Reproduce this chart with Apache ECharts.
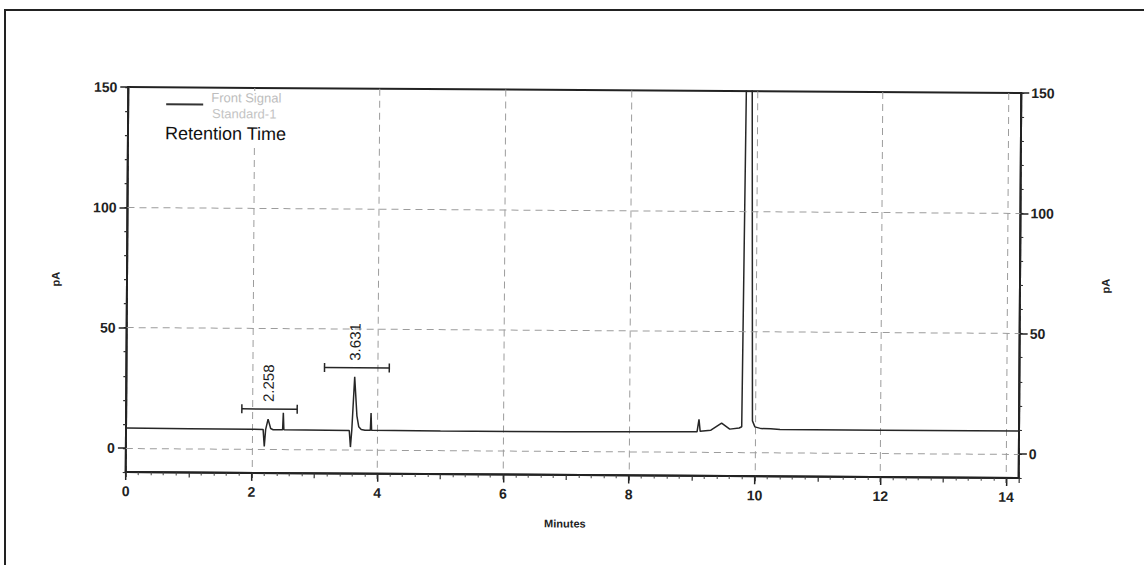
<!DOCTYPE html>
<html>
<head>
<meta charset="utf-8">
<script src="https://cdn.jsdelivr.net/npm/echarts@6/dist/echarts.min.js"></script>
<style>
html,body{margin:0;padding:0;background:#fff;width:1144px;height:565px;overflow:hidden;}
#frame{position:absolute;left:4px;top:9px;width:1140px;height:556px;border-left:2px solid #222;border-top:2px solid #222;box-sizing:border-box;}
#chart{position:absolute;left:0;top:0;width:1144px;height:565px;transform:rotate(0.38deg);transform-origin:572px 282px;}
</style>
</head>
<body>
<div id="frame"></div>
<div id="chart"></div>
<script>
// ---- data (minutes, pA) ----
const times  = [0, 1.0, 2.0, 2.18, 2.20, 2.22, 2.258, 2.30, 2.34, 2.49, 2.50, 2.51,
                3.55, 3.57, 3.59, 3.631, 3.67, 3.70, 3.74, 3.80, 3.885, 3.895, 3.905,
                5.0, 7.0, 9.08, 9.11, 9.13, 9.30, 9.47, 9.60, 9.75, 9.79, 9.875, 9.96,
                10.0, 10.1, 10.25, 10.4, 12.0, 14.2];
const signal = [8.3, 8.2, 8.1, 8.1, 1.0, 8.0, 12.4, 8.5, 8.0, 8.0, 15.1, 8.0,
                7.9, 1.0, 8.0, 30.2, 14.0, 9.5, 8.3, 8.0, 8.0, 15.2, 8.0,
                7.9, 8.0, 8.3, 13.5, 8.5, 9.0, 12.0, 9.5, 10.0, 10.5, 320, 13.0,
                10.5, 9.8, 9.8, 9.5, 9.5, 9.5];
// retention-time annotations
const peakLabels     = ['2.258', '3.631'];
const retentionTimes = [2.258, 3.631];
const bracketStarts  = [1.84, 3.15];
const bracketEnds    = [2.72, 4.18];
const bracketLevels  = [16.6, 34.0];
// axis tick labels / grid
const yLabelValues = [0, 50, 100, 150];
const yGridValues  = [0, 50, 100];

const FONT = 'Liberation Sans, Arial, sans-serif';
const INK = '#222';

const chart = echarts.init(document.getElementById('chart'), null, {renderer: 'svg'});

const lineData = times.map((t, i) => [t, signal[i]]);
const bracketData = bracketStarts.map((s, i) => [s, bracketEnds[i], bracketLevels[i], retentionTimes[i]]);

const commonY = {type: 'value', min: -10, max: 150};

const option = {
  animation: false,
  backgroundColor: 'transparent',
  grid: [
    {left: 127, right: 124, top: 90, bottom: 90, show: true, borderColor: INK, borderWidth: 2, backgroundColor: 'transparent'},
    {left: 127, right: 124, top: 90, bottom: 90}
  ],
  xAxis: [
    {
      gridIndex: 0, type: 'value', min: 0, max: 14.2, interval: 2,
      name: 'Minutes', nameLocation: 'middle', nameGap: 43,
      nameTextStyle: {fontFamily: FONT, fontSize: 11, fontWeight: 'bold', color: INK, padding: [0, 14, 0, 0]},
      axisLine: {show: true, onZero: false, lineStyle: {color: INK, width: 2}},
      axisTick: {show: true, length: 8, lineStyle: {color: INK, width: 1.5}},
      axisLabel: {color: INK, fontFamily: FONT, fontSize: 14, fontWeight: 'bold', margin: 12, showMaxLabel: false},
      splitLine: {show: true, lineStyle: {color: '#9c9c9c', type: [7, 5], width: 1}}
    },
    {
      gridIndex: 1, type: 'value', min: 0, max: 14.2, interval: 1,
      axisLine: {show: false, onZero: false},
      axisTick: {show: true, length: 5, lineStyle: {color: '#333', width: 1.2}},
      minorTick: {show: true, splitNumber: 5, length: 3, lineStyle: {color: '#444', width: 1}},
      axisLabel: {show: false}, splitLine: {show: false}
    }
  ],
  yAxis: [
    Object.assign({}, commonY, {
      gridIndex: 0, position: 'left', interval: 10,
      name: 'pA', nameLocation: 'middle', nameGap: 66, nameRotate: 90,
      nameTextStyle: {fontFamily: FONT, fontSize: 11, fontWeight: 'bold', color: INK},
      axisLine: {show: true, onZero: false, lineStyle: {color: INK, width: 2}},
      axisTick: {show: true, length: 3, lineStyle: {color: '#333', width: 1.2}},
      axisLabel: {customValues: yLabelValues, color: INK, fontFamily: FONT, fontSize: 14, fontWeight: 'bold', margin: 11},
      splitLine: {show: false}
    }),
    Object.assign({}, commonY, {
      gridIndex: 0, position: 'right', interval: 10,
      name: 'pA', nameLocation: 'middle', nameGap: 80, nameRotate: 90,
      nameTextStyle: {fontFamily: FONT, fontSize: 11, fontWeight: 'bold', color: INK},
      axisLine: {show: true, onZero: false, lineStyle: {color: INK, width: 2}},
      axisTick: {show: true, length: 3, lineStyle: {color: '#333', width: 1.2}},
      axisLabel: {customValues: yLabelValues, color: INK, fontFamily: FONT, fontSize: 14, fontWeight: 'bold', margin: 10},
      splitLine: {show: false}
    }),
    Object.assign({}, commonY, {
      gridIndex: 1, position: 'left',
      axisLine: {show: false, onZero: false},
      axisTick: {show: true, customValues: yLabelValues, length: 8, lineStyle: {color: INK, width: 1.5}},
      axisLabel: {show: false}, splitLine: {show: false}
    }),
    Object.assign({}, commonY, {
      gridIndex: 1, position: 'right',
      axisLine: {show: false, onZero: false},
      axisTick: {show: true, customValues: yLabelValues, length: 8, lineStyle: {color: INK, width: 1.5}},
      axisLabel: {show: false}, splitLine: {show: false}
    })
  ],
  graphic: [
    {type: 'rect', shape: {x: 158, y: 93, width: 140, height: 54}, style: {fill: '#fff'}, z: 10},
    {type: 'line', shape: {x1: 165, y1: 107, x2: 202, y2: 107}, style: {stroke: '#333', lineWidth: 2}, z: 11},
    {type: 'text', x: 210, y: 100, style: {text: 'Front Signal', font: '13px ' + FONT, fill: '#bdbdbd', verticalAlign: 'middle'}, z: 11},
    {type: 'text', x: 211, y: 116, style: {text: 'Standard-1', font: '13px ' + FONT, fill: '#c4c4c4', verticalAlign: 'middle'}, z: 11},
    {type: 'text', x: 164, y: 136, style: {text: 'Retention Time', font: '18px ' + FONT, fill: '#111', verticalAlign: 'middle'}, z: 11}
  ],
  series: [
    {
      type: 'line', name: 'Front Signal Standard-1', xAxisIndex: 0, yAxisIndex: 0,
      data: lineData, showSymbol: false, symbol: 'none', clip: true,
      lineStyle: {color: '#262626', width: 1.5},
      markLine: {
        silent: true, symbol: 'none', label: {show: false},
        lineStyle: {color: '#9c9c9c', type: [7, 5], width: 1},
        data: yGridValues.map(v => ({yAxis: v}))
      },
      z: 3
    },
    {
      type: 'custom', name: 'Retention Time', xAxisIndex: 0, yAxisIndex: 0,
      data: bracketData, clip: false, z: 4,
      renderItem: function (params, api) {
        const s = api.coord([api.value(0), api.value(2)]);
        const e = api.coord([api.value(1), api.value(2)]);
        const r = api.coord([api.value(3), api.value(2)]);
        const st = {stroke: '#262626', lineWidth: 1.5};
        return {
          type: 'group',
          children: [
            {type: 'line', shape: {x1: s[0], y1: s[1], x2: e[0], y2: e[1]}, style: st},
            {type: 'line', shape: {x1: s[0], y1: s[1] - 4.5, x2: s[0], y2: s[1] + 4.5}, style: st},
            {type: 'line', shape: {x1: e[0], y1: e[1] - 4.5, x2: e[0], y2: e[1] + 4.5}, style: st},
            {type: 'text', x: r[0], y: r[1] - 7, rotation: Math.PI / 2,
             style: {text: peakLabels[params.dataIndex], font: '15px ' + FONT, fill: '#1e1e1e', align: 'left', verticalAlign: 'middle'}}
          ]
        };
      }
    }
  ]
};
chart.setOption(option);
</script>
</body>
</html>
